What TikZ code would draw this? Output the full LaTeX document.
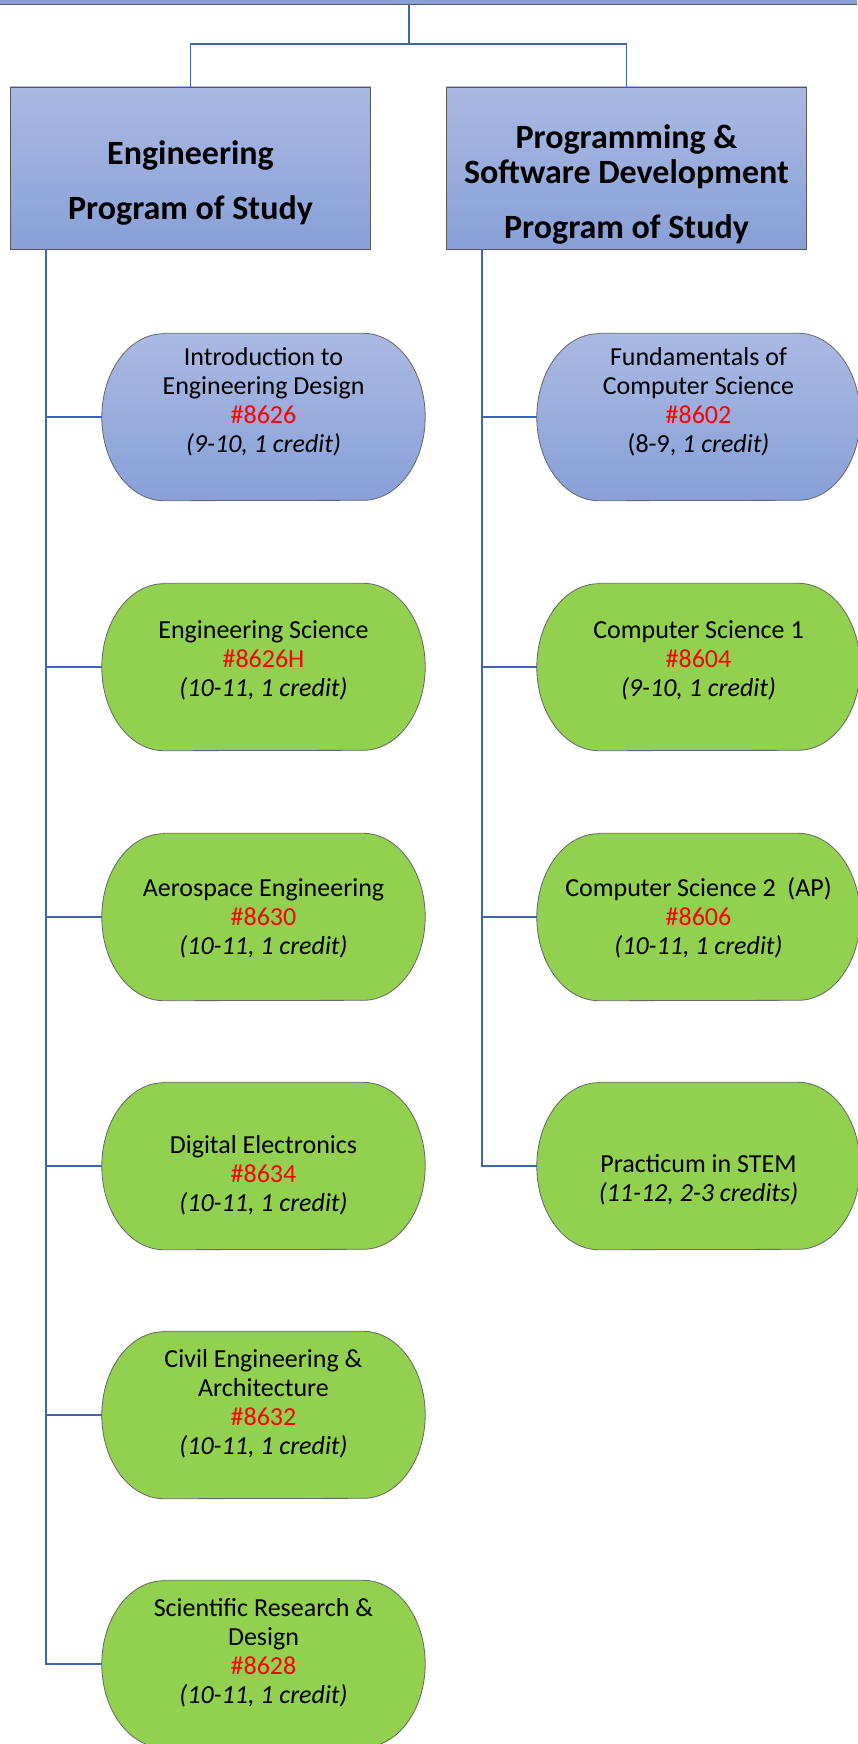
\documentclass[tikz,border=0pt]{standalone}
\usepackage{fontspec}
\setmainfont{Carlito}
\usepackage{xcolor}

\definecolor{hdrtop}{RGB}{170,185,226}
\definecolor{hdrbot}{RGB}{136,160,216}
\definecolor{pillgreen}{RGB}{146,208,80}
\definecolor{linkblue}{RGB}{62,100,180}
\definecolor{codered}{RGB}{255,0,0}

\pgfdeclarelayer{background}
\pgfsetlayers{background,main}

\newcommand\course[2]{\raisebox{#1}[\height][\depth]{\begin{tabular}{@{}c@{}}#2\end{tabular}}}
\newcommand\code[1]{\textcolor{codered}{#1}}

\begin{document}
\begin{tikzpicture}[x=1pt,y=-1pt,
    hdr/.style={draw=black!65,line width=0.8pt,top color=hdrtop,bottom color=hdrbot,
      minimum width=360pt,minimum height=162pt,inner sep=0pt,font=\fontsize{34}{35}\selectfont\bfseries},
    pill/.style={minimum width=323pt,minimum height=167pt,inner sep=0pt,font=\fontsize{26}{29}\selectfont},
    pillline/.style={draw=black!60,line width=0.8pt},
    bluefill/.style={pillline,top color=hdrtop,bottom color=hdrbot},
    greenfill/.style={pillline,fill=pillgreen},
    link/.style={draw=linkblue,line width=1.8pt}]
      \useasboundingbox (0,0) rectangle (857,1744);
      \clip (0,0) rectangle (857,1744);
      % headers
      \node[hdr,minimum width=900pt,minimum height=100pt] (top) at (409,-46) {};
      \node[hdr] (eng) at (190.5,168) {\course{-17pt}{Engineering\\[19.5pt]Program of Study}};
      \node[hdr] (prog) at (626.5,168) {\course{-18.5pt}{Programming \&\\Software Development\\[19.5pt]Program of Study}};
      \draw[link] (top.south) -- ++(0,40) -| (eng.north);
      \draw[link] (top.south) -- ++(0,40) -| (prog.north);
      % engineering courses
      \node[pill] (e1) at (263.5,417) {\course{14pt}{Introduction to\\Engineering Design\\\code{\#8626}\\\textit{(9-10, 1 credit)}}};
      \node[pill] (e2) at (263.5,667) {\course{5pt}{Engineering Science\\\code{\#8626H}\\\textit{(10-11, 1 credit)}}};
      \node[pill] (e3) at (263.5,917) {\course{-3pt}{Aerospace Engineering\\\code{\#8630}\\\textit{(10-11, 1 credit)}}};
      \node[pill] (e4) at (263.5,1166) {\course{-11pt}{Digital Electronics\\\code{\#8634}\\\textit{(10-11, 1 credit)}}};
      \node[pill] (e5) at (263.5,1415) {\course{10pt}{Civil Engineering \&\\Architecture\\\code{\#8632}\\\textit{(10-11, 1 credit)}}};
      \node[pill] (e6) at (263.5,1664) {\course{10pt}{Scientific Research \&\\Design\\\code{\#8628}\\\textit{(10-11, 1 credit)}}};
      % programming courses
      \node[pill] (p1) at (698.5,417) {\course{14pt}{Fundamentals of\\Computer Science\\\code{\#8602}\\(8-9, \textit{1 credit)}}};
      \node[pill] (p2) at (698.5,667) {\course{5pt}{Computer Science 1\\\code{\#8604}\\\textit{(9-10, 1 credit)}}};
      \node[pill] (p3) at (698.5,917) {\course{-3pt}{Computer Science 2~ (AP)\\\code{\#8606}\\\textit{(10-11, 1 credit)}}};
      \node[pill] (p4) at (698.5,1166) {\course{-15pt}{Practicum in STEM\\\textit{(11-12, 2-3 credits)}}};
      % pill outlines with elliptic ends
      \begin{pgfonlayer}{background}
        \foreach \n/\f in {e1/bluefill,e2/greenfill,e3/greenfill,e4/greenfill,e5/greenfill,e6/greenfill,
                           p1/bluefill,p2/greenfill,p3/greenfill,p4/greenfill}
          \path[\f] ([xshift=62pt]\n.north west) -- ([xshift=-62pt]\n.north east)
            arc[start angle=90,end angle=-90,x radius=62pt,y radius=83.5pt]
            -- ([xshift=62pt]\n.south west)
            arc[start angle=270,end angle=90,x radius=62pt,y radius=83.5pt] -- cycle;
      \end{pgfonlayer}
      % trunks
      \foreach \n in {e1,e2,e3,e4,e5,e6}
        \draw[link] ([xshift=36pt]eng.south west) |- (\n.west);
      \foreach \n in {p1,p2,p3,p4}
        \draw[link] ([xshift=36pt]prog.south west) |- (\n.west);
\end{tikzpicture}
\end{document}
